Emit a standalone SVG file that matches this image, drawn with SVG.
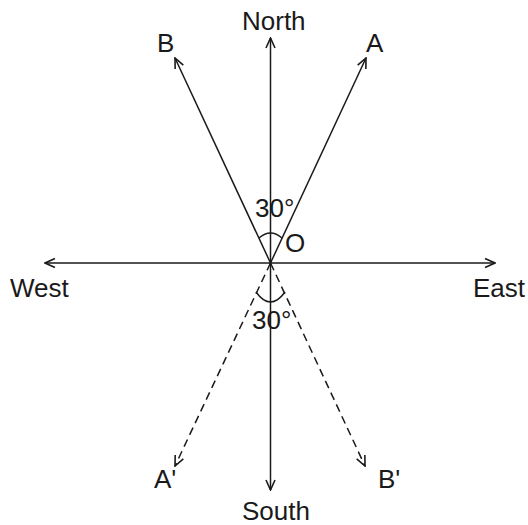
<svg xmlns="http://www.w3.org/2000/svg" width="528" height="525" viewBox="0 0 528 525">
<defs>
<marker id="ah" viewBox="0 0 12 12" refX="11" refY="6" markerWidth="12" markerHeight="12" markerUnits="userSpaceOnUse" orient="auto">
<path d="M1,1.5 L11,6 L1,10.5" fill="none" stroke="#1a1a1a" stroke-width="1.6"/>
</marker>
<style>
.ln{stroke:#1a1a1a;stroke-width:1.5;fill:none}
.ds{stroke-dasharray:8 5}
text{font-family:"Liberation Sans",Arial,sans-serif;font-size:26px;fill:#1a1a1a}
</style>
</defs>
<rect width="528" height="525" fill="#fff"/>
<g id="connectors">
<line class="ln" x1="270.5" y1="263" x2="270.5" y2="38" marker-end="url(#ah)"/>
<line class="ln" x1="270.5" y1="263" x2="270.5" y2="490" marker-end="url(#ah)"/>
<line class="ln" x1="270.5" y1="263" x2="45" y2="263" marker-end="url(#ah)"/>
<line class="ln" x1="270.5" y1="263" x2="495" y2="263" marker-end="url(#ah)"/>
<line class="ln" x1="270.5" y1="263" x2="366" y2="58" marker-end="url(#ah)"/>
<line class="ln" x1="270.5" y1="263" x2="175" y2="58" marker-end="url(#ah)"/>
<line class="ln ds" x1="270.5" y1="263" x2="175" y2="466" marker-end="url(#ah)"/>
<line class="ln ds" x1="270.5" y1="263" x2="365" y2="466" marker-end="url(#ah)"/>
<path class="ln" d="M259,238 Q270.5,228 282,238"/>
<path class="ln" d="M256,292 Q270.5,312 285,292"/>
</g>
<g id="labels">
<text x="242" y="30">North</text>
<text x="242" y="520">South</text>
<text x="10" y="297">West</text>
<text x="473" y="297">East</text>
<text x="157" y="52">B</text>
<text x="366" y="52">A</text>
<text x="154" y="488">A'</text>
<text x="378" y="488">B'</text>
<text x="255" y="217">30°</text>
<text x="285" y="252">O</text>
<text x="252" y="329">30°</text>
</g>
</svg>
